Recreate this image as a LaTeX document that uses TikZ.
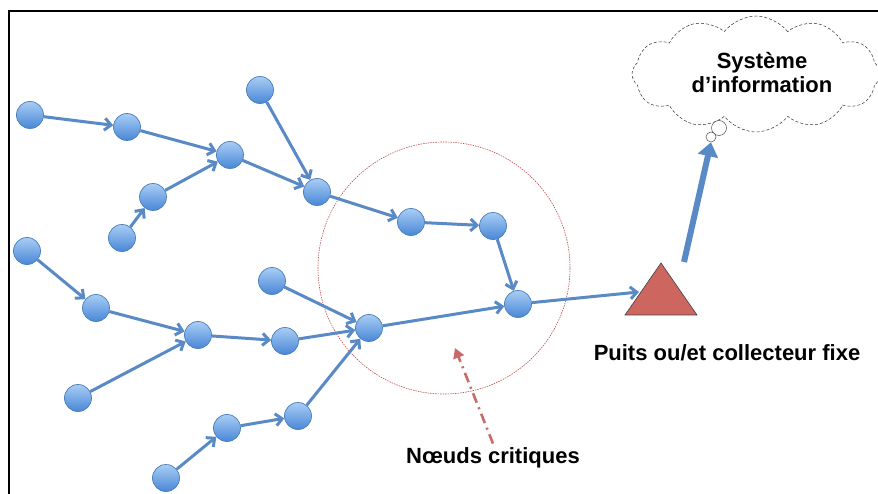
\documentclass[tikz,border=0pt]{standalone}
\usepackage{fontspec}
\setmainfont{Liberation Sans}
\usepackage{xcolor}
\usetikzlibrary{arrows.meta,shapes.symbols}

\definecolor{bordbleu}{HTML}{4A7EBB}
\definecolor{lienbleu}{HTML}{5A8AC6}
\definecolor{hautbleu}{HTML}{A9CDF5}
\definecolor{basbleu}{HTML}{4887D6}
\definecolor{puitsrouge}{HTML}{CD665E}
\definecolor{critrouge}{HTML}{C0504D}

\begin{document}
\begin{tikzpicture}[x=1pt,y=-1pt,
  capteur/.style={circle,minimum size=27pt,inner sep=0pt,draw=bordbleu,line width=0.7pt,
    top color=hautbleu,bottom color=basbleu},
  lien/.style={-{Straight Barb[length=6.5pt,width=12pt]},lienbleu,line width=3pt},
  titre/.style={font=\bfseries\fontsize{22}{24}\selectfont}]
\useasboundingbox (0,0) rectangle (878,494);
      \draw[line width=1.6pt] (9,494) -- (9,11) -- (878,11);
      % zone critique
      \node[circle,draw=critrouge,dash pattern=on 1.5pt off 1pt,line width=0.6pt,
        minimum size=252pt] (zone) at (444,268) {};
      % capteurs du haut
      \node[capteur] (a1) at (30,115) {};
      \node[capteur] (a2) at (127,127) {};
      \node[capteur] (a3) at (230,155) {};
      \node[capteur] (a4) at (153,197) {};
      \node[capteur] (a5) at (122,238) {};
      \node[capteur] (a6) at (260,90) {};
      \node[capteur] (a7) at (317,192) {};
      \node[capteur] (a8) at (411,222) {};
      \node[capteur] (a9) at (493,226) {};
      \node[capteur] (a10) at (518,304) {};
      % capteurs du bas
      \node[capteur] (b1) at (27,251) {};
      \node[capteur] (b2) at (96,308) {};
      \node[capteur] (b3) at (198,335) {};
      \node[capteur] (b4) at (78,398) {};
      \node[capteur] (b5) at (285,341) {};
      \node[capteur] (b6) at (272,281) {};
      \node[capteur] (b7) at (369,328) {};
      \node[capteur] (b8) at (166,478) {};
      \node[capteur] (b9) at (227,428) {};
      \node[capteur] (b10) at (298,416) {};
      \foreach \de/\vers in {a1/a2,a2/a3,a5/a4,a4/a3,a3/a7,a6/a7,a7/a8,a8/a9,a9/a10,
          b1/b2,b2/b3,b4/b3,b3/b5,b5/b7,b6/b7,b8/b9,b9/b10,b10/b7,b7/a10}
        \draw[lien] (\de) -- (\vers);
      % puits
      \coordinate (puitshaut) at (661,263);
      \coordinate (puitsdroit) at (697,315);
      \coordinate (puitsgauche) at (625,315);
      \coordinate (puitsentree) at (639,292);
      \coordinate (puitssortie) at (684,262);
      \draw[fill=puitsrouge,draw=black!75,line width=0.6pt] (puitshaut) -- (puitsdroit) -- (puitsgauche) -- cycle;
      \draw[lien] (a10) -- (puitsentree);
      \node[titre,anchor=base] (puits) at (727,360) {Puits ou/et collecteur fixe};
      % systeme d'information
      \node[cloud,draw=black!80,densely dashed,line width=0.5pt,fill=white,cloud puffs=12,
        cloud puff arc=105,cloud ignores aspect,minimum width=248pt,minimum height=116pt] (info) at (756,74) {};
      \node[titre,align=center] (infotexte) at (762,73) {Système\\d’information};
      \node[circle,draw=black!70,line width=0.5pt,fill=white,minimum size=15pt,inner sep=0pt] (bulle1) at (719,128) {};
      \node[circle,draw=black!70,line width=0.5pt,fill=white,minimum size=10pt,inner sep=0pt] (bulle2) at (711,137) {};
      \draw[lienbleu,line width=6pt,-{Triangle[length=14pt,width=20pt]}] (puitssortie) -- (bulle2.south);
      % noeuds critiques
      \node[titre,anchor=base] (crit) at (493,463) {Nœuds critiques};
      \coordinate (critcible) at (455,348);
      \draw[critrouge!85,line width=2.6pt,dash pattern=on 10pt off 5pt on 2pt off 5pt,
        -{Triangle[length=10pt,width=11pt]}] (crit.north) -- (critcible);
\end{tikzpicture}
\end{document}
